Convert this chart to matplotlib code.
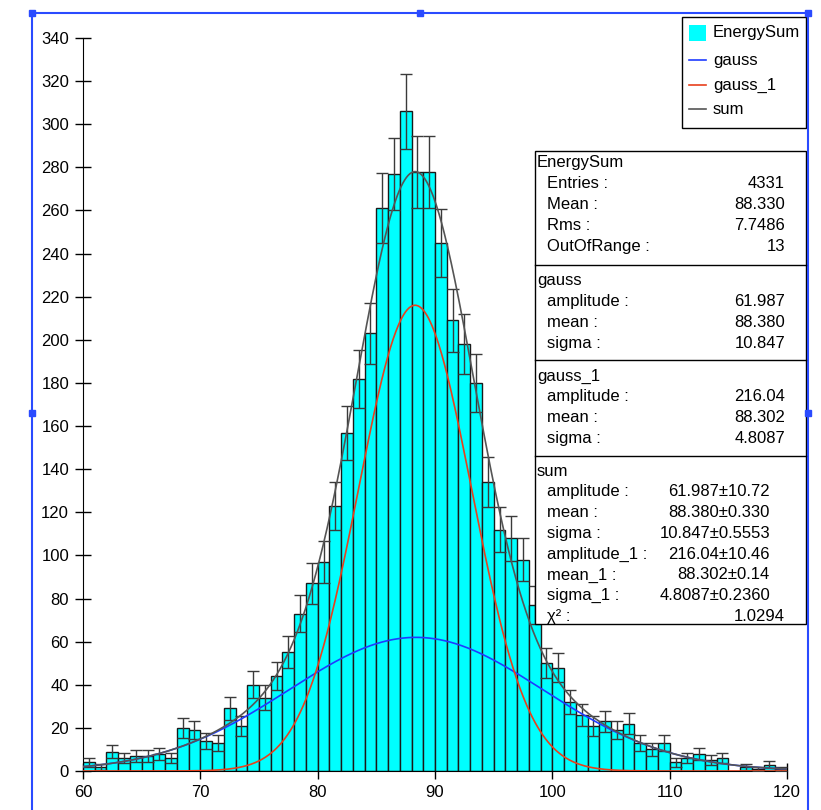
import numpy as np
import matplotlib
matplotlib.use("Agg")
import matplotlib.pyplot as plt
from matplotlib.patches import Rectangle

plt.rcParams['font.family'] = ['Liberation Sans', 'DejaVu Sans']

# histogram EnergySum, 1-unit bins from 60 to 120
bin_lefts = np.arange(60, 120)
counts = np.array([4, 2, 9, 6, 7, 7, 8, 6, 20, 19,
                   14, 13, 29, 21, 40, 34, 44, 55, 73, 87,
                   97, 123, 157, 182, 203, 261, 277, 306, 278, 278,
                   245, 209, 198, 180, 134, 112, 108, 98, 77, 50,
                   48, 32, 26, 21, 23, 19, 22, 13, 10, 13,
                   4, 6, 8, 5, 6, 0, 2, 1, 3, 1])

# fit results
gauss_amp, gauss_mean, gauss_sigma = 61.987, 88.380, 10.847
gauss1_amp, gauss1_mean, gauss1_sigma = 216.04, 88.302, 4.8087

legend_labels = ["EnergySum", "gauss", "gauss_1", "sum"]
stats_sections = [
    ("EnergySum", [("Entries :", "4331"), ("Mean :", "88.330"),
                   ("Rms :", "7.7486"), ("OutOfRange :", "13")]),
    ("gauss", [("amplitude :", "61.987"), ("mean :", "88.380"),
               ("sigma :", "10.847")]),
    ("gauss_1", [("amplitude :", "216.04"), ("mean :", "88.302"),
                 ("sigma :", "4.8087")]),
    ("sum", [("amplitude :", "61.987\u00b110.72"), ("mean :", "88.380\u00b10.330"),
             ("sigma :", "10.847\u00b10.5553"), ("amplitude_1 :", "216.04\u00b110.46"),
             ("mean_1 :", "88.302\u00b10.14"), ("sigma_1 :", "4.8087\u00b10.2360"),
             ("\u03c7\u00b2 :", "1.0294")]),
]

CYAN = '#00ffff'
BLUE = '#1f3cff'
RED = '#e8401c'
GRAY = '#555555'
SEL = '#2a4bff'


def gauss(x, a, m, s):
    return a * np.exp(-0.5 * ((x - m) / s) ** 2)


fig = plt.figure(figsize=(8.21, 8.10), dpi=100)
ax = fig.add_axes([83 / 821, 39 / 810, 704 / 821, 733 / 810])

ax.bar(bin_lefts, counts, width=1, align='edge', color=CYAN,
       edgecolor='#1a1a1a', linewidth=1, zorder=2)
nz = counts > 0
ax.errorbar(bin_lefts[nz] + 0.5, counts[nz], yerr=np.sqrt(counts[nz]), fmt='none',
            ecolor='#3a3a3a', elinewidth=1, capsize=4, capthick=1, zorder=3)

xs = np.linspace(60, 120, 800)
g0 = gauss(xs, gauss_amp, gauss_mean, gauss_sigma)
g1 = gauss(xs, gauss1_amp, gauss1_mean, gauss1_sigma)
ax.plot(xs, g0, color=BLUE, lw=1.2, zorder=4)
ax.plot(xs, g1, color=RED, lw=1.2, zorder=4)
ax.plot(xs, g0 + g1, color=GRAY, lw=1.2, zorder=4)

ax.set_xlim(60, 120)
ax.set_ylim(0, 340)
ax.set_xticks(np.arange(60, 121, 10))
ax.set_yticks(np.arange(0, 341, 20))
ax.spines['top'].set_visible(False)
ax.spines['right'].set_visible(False)
ax.patch.set_visible(False)
ax.tick_params(direction='inout', length=12, width=1, labelsize=12, pad=4)

# overlay in pixel coordinates for selection frame, legend and stats box
ov = fig.add_axes([0, 0, 1, 1])
ov.set_xlim(0, 821)
ov.set_ylim(810, 0)
ov.axis('off')

ov.plot([32, 32, 808, 808], [810, 13, 13, 810], color=SEL, lw=1.5)
ov.plot([32, 420, 808, 32, 808], [13, 13, 13, 413, 413], 's', ms=5, color=SEL)

# legend
ov.add_patch(Rectangle((682, 17), 124, 111, fc='white', ec='black', lw=1))
ov.add_patch(Rectangle((689, 25), 17, 16, fc=CYAN, ec='none'))
rows_y = [33, 60, 85, 109]
for col, y in zip([BLUE, RED, GRAY], rows_y[1:]):
    ov.plot([689, 706], [y, y], color=col, lw=1.2)
for lab, y in zip(legend_labels, rows_y):
    ov.text(713, y, lab, fontsize=12, va='center', ha='left')

# stats box
ov.add_patch(Rectangle((535, 151), 271, 473, fc='white', ec='black', lw=1))
for y in [265, 360, 456]:
    ov.plot([535, 806], [y, y], color='black', lw=1)

y = 163
heads_y = {"EnergySum": 163, "gauss": 281, "gauss_1": 376, "sum": 471}
for head, rows in stats_sections:
    y = heads_y[head]
    ov.text(537, y, head, fontsize=12, va='center', ha='left')
    for lab, val in rows:
        y += 20.8
        ov.text(547, y, lab, fontsize=12, va='center', ha='left')
        xr = 770 if '\u00b1' in val else 785
        ov.text(xr, y, val, fontsize=12, va='center', ha='right')

fig.savefig('out.png', dpi=100)
